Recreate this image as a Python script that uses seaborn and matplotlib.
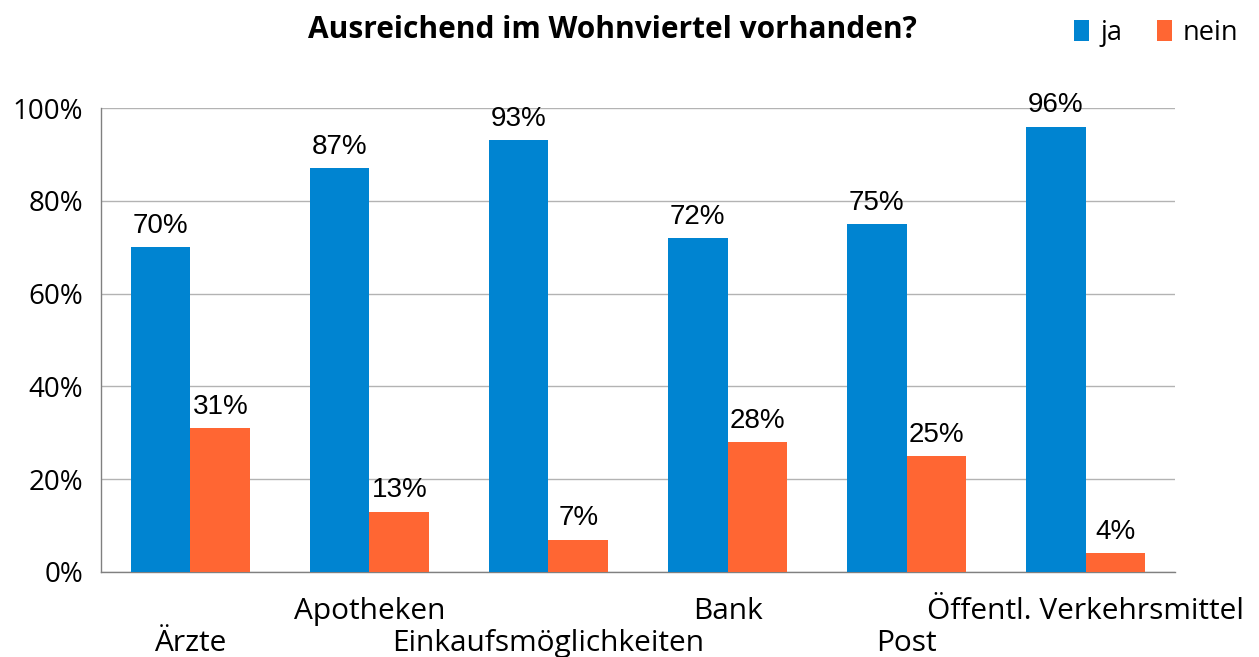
import pandas as pd
import numpy as np
import matplotlib
matplotlib.use('Agg')
import matplotlib.pyplot as plt
import matplotlib.transforms as mtransforms
import seaborn as sns
from matplotlib.ticker import MultipleLocator, FixedLocator

# Daten
kategorien = ['Ärzte', 'Apotheken', 'Einkaufsmöglichkeiten', 'Bank', 'Post',
              'Öffentl. Verkehrsmittel']
ja_werte = [70, 87, 93, 72, 75, 96]
nein_werte = [31, 13, 7, 28, 25, 4]
serien = ['ja', 'nein']
farben = ['#0084D1', '#FF6633']

df = pd.DataFrame({
    'kategorie': kategorien * 2,
    'wert': ja_werte + nein_werte,
    'serie': ['ja'] * len(kategorien) + ['nein'] * len(kategorien),
})

sns.set_style('white')
plt.rcParams['font.family'] = ['Open Sans', 'DejaVu Sans']
plt.rcParams['text.color'] = 'black'
plt.rcParams['xtick.labelcolor'] = 'black'
plt.rcParams['ytick.labelcolor'] = 'black'

fig = plt.figure(figsize=(12.59, 6.57), dpi=100)
ax = fig.add_axes([0.0802, 0.1294, 0.8531, 0.7062])

sns.barplot(data=df, x='kategorie', y='wert', hue='serie', order=kategorien,
            hue_order=serien, palette=farben, width=0.67, saturation=1,
            linewidth=0, ax=ax, zorder=3)

for cont in ax.containers:
    ax.bar_label(cont, fmt='%d%%', padding=6, fontsize=20,
                 family='Liberation Sans', color='black')

ax.set_ylim(0, 100)
ax.set_xlim(-0.5, len(kategorien) - 0.5)
ax.yaxis.set_major_locator(MultipleLocator(20))
ax.set_yticklabels([f'{int(v)}%' for v in ax.get_yticks()], fontsize=20)
ax.grid(axis='y', color='#b3b3b3', linewidth=1, zorder=0)
ax.set_axisbelow(True)

# versetzte Kategorienbeschriftung
ax.set_xticks(range(len(kategorien)))
ax.set_xticklabels(kategorien, fontsize=21.5)
ax.tick_params(axis='x', which='major', length=0, pad=18)
versatz = mtransforms.ScaledTranslation(0, -0.32, fig.dpi_scale_trans)
for i, lbl in enumerate(ax.get_xticklabels()):
    if i % 2 == 0:
        lbl.set_transform(lbl.get_transform() + versatz)
ax.xaxis.set_minor_locator(FixedLocator(np.arange(-0.5, len(kategorien), 1)))
ax.tick_params(axis='x', which='minor', length=15, color='#808080', width=1,
               direction='out')
ax.tick_params(axis='y', length=10, color='#808080', width=1, direction='out',
               pad=3)

for s in ['top', 'right']:
    ax.spines[s].set_visible(False)
for s in ['left', 'bottom']:
    ax.spines[s].set_color('#808080')
    ax.spines[s].set_linewidth(1)

ax.set_xlabel('')
ax.set_ylabel('')

fig.text(0.4865, 0.955, 'Ausreichend im Wohnviertel vorhanden?', ha='center',
         va='center', fontsize=21.5, fontweight='bold', color='black')

ax.legend(loc='upper right', bbox_to_anchor=(1.082, 1.245), ncol=2, frameon=False,
          fontsize=19.5, handlelength=0.55, handleheight=0.8, handletextpad=0.4,
          columnspacing=1.3, labelcolor='black')

fig.savefig('out.png', dpi=100)
